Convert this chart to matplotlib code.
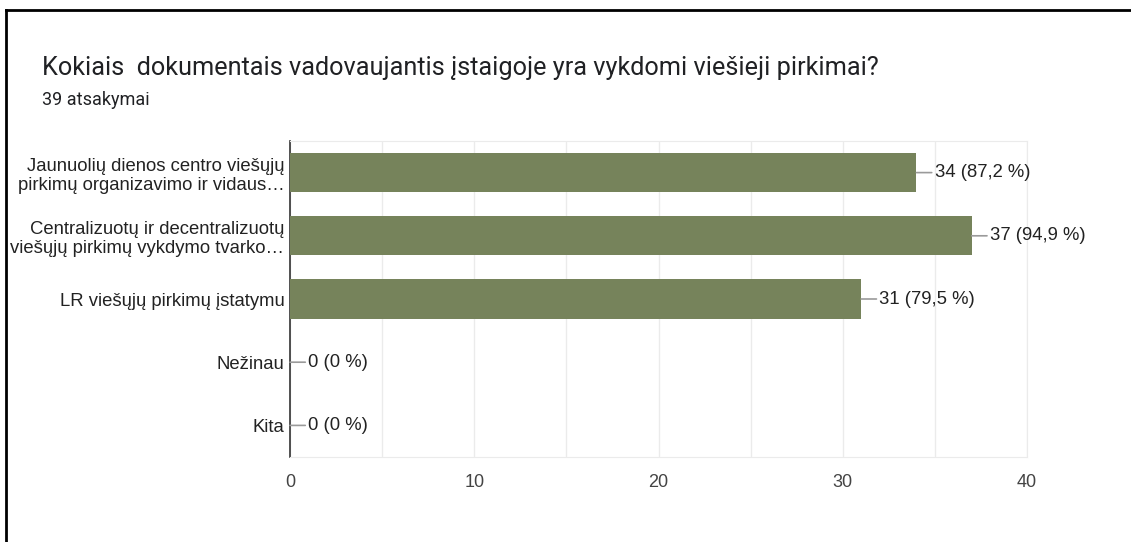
import matplotlib.pyplot as plt
from matplotlib.lines import Line2D

# Duomenys
categories = [
    "Jaunuolių dienos centro viešųjų\npirkimų organizavimo ir vidaus…",
    "Centralizuotų ir decentralizuotų\nviešųjų pirkimų vykdymo tvarko…",
    "LR viešųjų pirkimų įstatymu",
    "Nežinau",
    "Kita",
]
counts = [34, 37, 31, 0, 0]
percents = ["87,2", "94,9", "79,5", "0", "0"]
total = 39
x_ticks = [0, 10, 20, 30, 40]

bar_color = "#76835b"

fig = plt.figure(figsize=(11.31, 5.42), dpi=100)
ax = fig.add_axes([290 / 1131, 1 - 457 / 542, (1027 - 290) / 1131, (457 - 141) / 542])

y = list(range(len(categories)))
ax.barh(y, counts, height=0.62, color=bar_color, zorder=3)
ax.set_ylim(len(categories) - 0.5, -0.5)
ax.set_xlim(0, 40)

# etiketės su linija
for i, (c, p) in enumerate(zip(counts, percents)):
    ax.annotate(f"{c} ({p} %)", xy=(c, i), xytext=(13, 0), textcoords="offset points",
                ha="left", va="center", fontsize=13.3, color="#222222",
                family="Liberation Sans",
                arrowprops=dict(arrowstyle="-", color="#9a9a9a", lw=1.2,
                                shrinkA=0, shrinkB=0))

ax.set_xticks(x_ticks)
ax.set_xticks(range(0, 41, 5), minor=True)
ax.grid(True, axis="x", which="both", color="#ebebeb", lw=1, zorder=0)
ax.tick_params(axis="x", which="both", length=0, pad=12, labelsize=13, labelcolor="#444444")
ax.set_yticks(y)
ax.set_yticklabels(categories, fontsize=13.3, color="#222222", family="Liberation Sans",
                   linespacing=1.15)
ax.tick_params(axis="y", length=0, pad=4)
for lbl in ax.get_xticklabels():
    lbl.set_family("Liberation Sans")

for s in ["top", "right", "bottom"]:
    ax.spines[s].set_color("#ebebeb")
ax.spines["left"].set_color("#333333")
ax.spines["left"].set_linewidth(1.2)

fig.text(42 / 1131, 1 - 68 / 542, "Kokiais  dokumentais vadovaujantis įstaigoje yra vykdomi viešieji pirkimai?",
         fontsize=18.2, family="Roboto", color="#202124", va="center")
fig.text(42 / 1131, 1 - 100 / 542, f"{total} atsakymai", fontsize=13, family="Roboto",
         color="#202124", va="center")

# rėmelis
fig.add_artist(Line2D([6 / 1131, 6 / 1131], [0, 1 - 10 / 542], transform=fig.transFigure,
                      color="black", lw=2))
fig.add_artist(Line2D([6 / 1131, 1], [1 - 10 / 542, 1 - 10 / 542], transform=fig.transFigure,
                      color="black", lw=2))

fig.savefig("out.png", dpi=100)
